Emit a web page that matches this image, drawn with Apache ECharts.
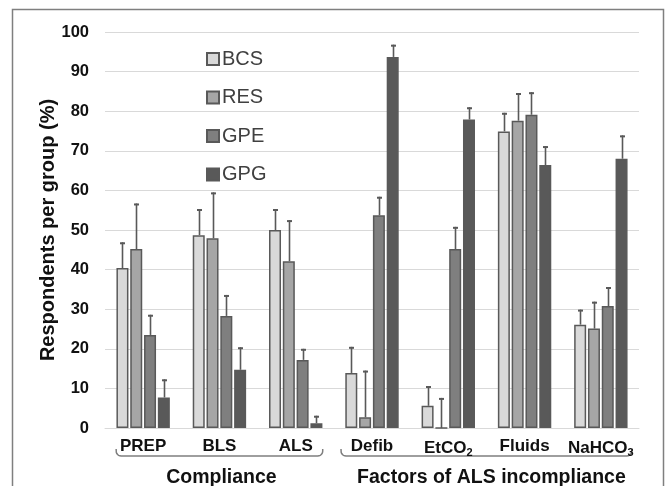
<!DOCTYPE html>
<html>
<head>
<meta charset="utf-8">
<script src="https://cdn.jsdelivr.net/npm/echarts@6/dist/echarts.min.js"></script>
<style>html,body{margin:0;padding:0;background:#fff;}#c{width:667px;height:486px;}</style>
</head>
<body>
<div id="c"></div>
<script>
var categories = ['PREP', 'BLS', 'ALS', 'Defib', 'EtCO2', 'Fluids', 'NaHCO3'];
var seriesNames = ['BCS', 'RES', 'GPE', 'GPG'];
var bcsValues = [40.4, 48.7, 50.0, 13.9, 5.6, 74.9, 26.1];
var resValues = [45.2, 47.9, 42.1, 2.7, 0, 77.6, 25.1];
var gpeValues = [23.5, 28.3, 17.2, 53.7, 45.2, 79.1, 30.8];
var gpgValues = [7.7, 14.7, 1.2, 93.7, 77.9, 66.4, 68.0];
var bcsErr = [6.5, 6.6, 5.3, 6.6, 5.0, 4.7, 3.8];
var resErr = [11.5, 11.6, 10.4, 11.8, 7.6, 7.0, 6.8];
var gpeErr = [5.1, 5.3, 2.8, 4.7, 5.6, 5.7, 4.8];
var gpgErr = [4.6, 5.7, 1.9, 3.1, 3.1, 4.8, 5.9];
var yTicks = [0, 10, 20, 30, 40, 50, 60, 70, 80, 90, 100];
var groupLabels = ['Compliance', 'Factors of ALS incompliance'];

var allValues = [bcsValues, resValues, gpeValues, gpgValues];
var allErr = [bcsErr, resErr, gpeErr, gpgErr];
var fills = ['#d9d9d9', '#a6a6a6', '#7f7f7f', '#595959'];
var CAT_GAP = 0.30, BAR_GAP = 0.15;

var chart = echarts.init(document.getElementById('c'), null, {renderer: 'canvas'});

function errRender(si) {
  return function (params, api) {
    var ci = api.value(0);
    var top = api.coord([ci, api.value(1) + api.value(2)]);
    var base = api.coord([ci, api.value(1)]);
    var band = api.size([1, 0])[0];
    var used = band * (1 - CAT_GAP);
    var n = 4;
    var bw = used / (n + (n - 1) * BAR_GAP);
    var off = -used / 2 + si * bw * (1 + BAR_GAP) + bw / 2;
    var x = Math.round(base[0] + off) + 0.5;
    return {
      type: 'group',
      children: [
        {type: 'line', shape: {x1: x, y1: base[1], x2: x, y2: top[1]},
         style: {stroke: '#595959', lineWidth: 1.6}},
        {type: 'line', shape: {x1: x - 2.5, y1: top[1] + 1, x2: x + 2.5, y2: top[1] + 1},
         style: {stroke: '#595959', lineWidth: 2}}
      ]
    };
  };
}

var series = [];
seriesNames.forEach(function (name, i) {
  series.push({
    name: name,
    type: 'bar',
    data: allValues[i],
    barCategoryGap: (CAT_GAP * 100) + '%',
    barGap: (BAR_GAP * 100) + '%',
    itemStyle: {color: fills[i], borderColor: '#595959', borderWidth: 1.5},
    emphasis: {disabled: true},
    animation: false
  });
});
seriesNames.forEach(function (name, i) {
  series.push({
    name: name + '_err',
    type: 'custom',
    renderItem: errRender(i),
    data: categories.map(function (c, k) { return [k, allValues[i][k], allErr[i][k]]; }),
    encode: {x: 0, y: [1]},
    z: 5,
    silent: true,
    animation: false
  });
});

function catLabel(v) {
  var m = v.match(/^(.*?)(\d)$/);
  if (m) return m[1] + '{sub|' + m[2] + '}';
  return v;
}

chart.setOption({
  animation: false,
  backgroundColor: '#ffffff',
  grid: {left: 105, right: 28, top: 32, bottom: 58, containLabel: false},
  legend: {
    data: seriesNames,
    orient: 'vertical',
    left: 201,
    top: 44,
    itemWidth: 12,
    itemHeight: 12,
    itemGap: 18.5,
    icon: 'rect',
    selectedMode: false,
    textStyle: {fontFamily: 'Liberation Sans', fontSize: 20, color: '#404040', lineHeight: 20, padding: [0, 0, 0, -2]}
  },
  xAxis: {
    type: 'category',
    data: categories,
    axisLine: {show: true, lineStyle: {color: '#d9d9d9', width: 1}},
    axisTick: {show: false},
    axisLabel: {
      interval: 0,
      margin: 10,
      formatter: catLabel,
      fontFamily: 'Liberation Sans',
      fontWeight: 'bold',
      fontSize: 17,
      color: '#111',
      rich: {
        sub: {fontFamily: 'Liberation Sans', fontWeight: 'bold', fontSize: 11, color: '#111', padding: [9, 0, 0, 0]}
      }
    }
  },
  yAxis: {
    type: 'value',
    min: 0,
    max: 100,
    interval: 10,
    name: 'Respondents per group (%)',
    nameLocation: 'middle',
    nameGap: 47,
    nameMoveOverlap: false,
    nameTextStyle: {fontFamily: 'Liberation Sans', fontWeight: 'bold', fontSize: 20, color: '#111'},
    axisLine: {show: false},
    axisTick: {show: false},
    splitLine: {lineStyle: {color: '#d9d9d9', width: 1}},
    axisLabel: {
      margin: 16,
      fontFamily: 'Liberation Sans',
      fontWeight: 'bold',
      fontSize: 16.5,
      color: '#111',
      formatter: function (v) { return yTicks.indexOf(v) >= 0 ? String(v) : ''; }
    }
  },
  series: series
});

function brace(x1, x2, y) {
  var r = 5;
  var pts = [[x1, y - 7]];
  for (var k = 1; k <= 6; k++) {
    var a = Math.PI - k * Math.PI / 12;
    pts.push([x1 + r + r * Math.cos(a), y - r + r * Math.sin(a)]);
  }
  for (var k2 = 0; k2 <= 6; k2++) {
    var a2 = Math.PI / 2 - k2 * Math.PI / 12;
    pts.push([x2 - r + r * Math.cos(a2), y - r + r * Math.sin(a2)]);
  }
  pts.push([x2, y - 7]);
  return {
    type: 'polyline',
    shape: {points: pts},
    style: {stroke: '#7f7f7f', lineWidth: 1.5, fill: null},
    silent: true
  };
}

var p0 = chart.convertToPixel({xAxisIndex: 0}, 0);
var p2 = chart.convertToPixel({xAxisIndex: 0}, 2);
var p3 = chart.convertToPixel({xAxisIndex: 0}, 3);
var p6 = chart.convertToPixel({xAxisIndex: 0}, 6);
var braceY = 456;

chart.setOption({
  graphic: [
    {type: 'rect', shape: {x: 12.5, y: 9.5, width: 651, height: 520},
     style: {stroke: '#7f7f7f', lineWidth: 1.5, fill: null}, silent: true},
    brace(p0 - 27, p2 + 27, braceY),
    brace(p3 - 31, p6 + 31, braceY),
    {type: 'text', x: (p0 + p2) / 2 + 2, y: 478,
     style: {text: groupLabels[0], fontFamily: 'Liberation Sans', fontWeight: 'bold', fontSize: 19.5,
       fill: '#111', textAlign: 'center', textVerticalAlign: 'middle'}},
    {type: 'text', x: (p3 + p6) / 2 + 5, y: 478,
     style: {text: groupLabels[1], fontFamily: 'Liberation Sans', fontWeight: 'bold', fontSize: 19.5,
       fill: '#111', textAlign: 'center', textVerticalAlign: 'middle'}}
  ]
});
</script>
</body>
</html>
